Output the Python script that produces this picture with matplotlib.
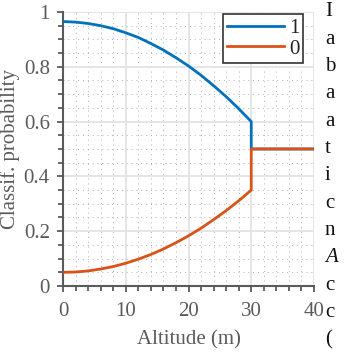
import matplotlib
matplotlib.use("Agg")
import matplotlib.pyplot as plt
from matplotlib.ticker import MultipleLocator

# altitude samples (m); the step at 30 m is repeated on purpose
altitude = [0, 2, 4, 6, 8, 10, 12, 14, 16, 18, 20, 22, 24, 26, 28, 30, 30, 40]
prob_1 = [0.965, 0.963, 0.958, 0.950, 0.939, 0.924, 0.907, 0.885, 0.861,
          0.833, 0.803, 0.769, 0.731, 0.691, 0.647, 0.600, 0.500, 0.500]
prob_0 = [0.050, 0.051, 0.055, 0.062, 0.071, 0.083, 0.098, 0.115, 0.135,
          0.158, 0.183, 0.211, 0.242, 0.275, 0.311, 0.350, 0.500, 0.500]
series_labels = ["1", "0"]

# clipped running text of the page, right of the figure
side_letters = ["I", "a", "b", "a", "a", "t", "i", "c", "n", "A", "c", "c", "("]

plt.rcParams["font.family"] = ["Liberation Serif", "DejaVu Serif"]
grey = "#5a5a5a"

fig = plt.figure(figsize=(3.56, 3.52), dpi=100)
ax = fig.add_axes([0.177, 0.1875, 0.705, 0.7785])

ax.plot(altitude, prob_1, color="#0072BD", lw=2.0, label=series_labels[0], zorder=3)
ax.plot(altitude, prob_0, color="#D95319", lw=2.0, label=series_labels[1], zorder=3)

ax.set_xlim(0, 40)
ax.set_ylim(0, 1)
ax.xaxis.set_major_locator(MultipleLocator(10))
ax.xaxis.set_minor_locator(MultipleLocator(2))
ax.yaxis.set_minor_locator(MultipleLocator(0.05))
ax.set_yticks([0, 0.2, 0.4, 0.6, 0.8, 1])
ax.set_yticklabels(["0", "0.2", "0.4", "0.6", "0.8", "1"])

ax.grid(True, which="major", color="#e3e3e3", lw=1.3, zorder=0)
ax.grid(True, which="minor", color="#b0b0b0", lw=0.7, ls=(0, (1, 4)), zorder=0)
ax.set_axisbelow(True)

for side in ["top", "right"]:
    ax.spines[side].set_visible(False)
for side in ["left", "bottom"]:
    ax.spines[side].set_color(grey)
    ax.spines[side].set_linewidth(1.5)

ax.tick_params(which="both", direction="out", colors=grey, labelsize=15, width=1.3)
ax.tick_params(which="major", length=4.5)
ax.tick_params(which="minor", length=3.5)
ax.tick_params(axis="x", pad=7)
ax.tick_params(axis="y", pad=5)

ax.set_xlabel("Altitude (m)", color=grey, fontsize=15, labelpad=7)
ax.set_ylabel("Classif. probability", color=grey, fontsize=15, labelpad=3)

leg = ax.legend(loc="upper right", bbox_to_anchor=(0.958, 0.992), fontsize=15,
                handlelength=2.7, handletextpad=0.25, borderpad=0.2,
                borderaxespad=0.0, labelspacing=0.05, fancybox=False,
                framealpha=1)
leg.get_frame().set_edgecolor("#333333")
leg.get_frame().set_linewidth(1.2)
for t in leg.get_texts():
    t.set_color("#222222")

for i, ch in enumerate(side_letters):
    fig.text(325 / 356, 1 - (12 + 27.3 * i) / 352, ch, fontsize=15,
             color="#111111", va="center", ha="left",
             style="italic" if ch == "A" else "normal")

fig.savefig("out.png", dpi=100)
